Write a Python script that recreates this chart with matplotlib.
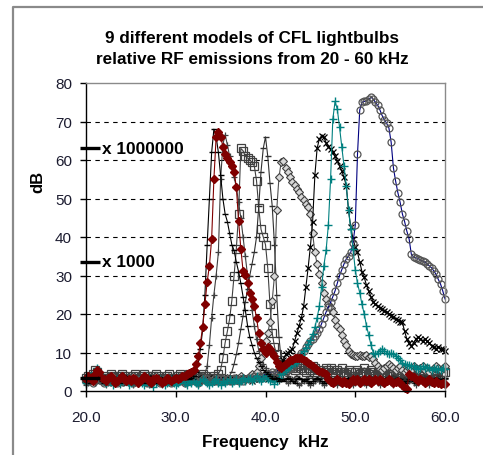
import numpy as np
import matplotlib
matplotlib.use("Agg")
import matplotlib.pyplot as plt
from matplotlib.lines import Line2D

plt.rcParams['font.family'] = ['Liberation Sans', 'DejaVu Sans']

# ---------------- data ----------------
freq_khz = np.linspace(20.0, 60.0, 161)   # 0.25 kHz sampling

db_red = [
    3.0, 4.0, 3.5, 2.5,  4.5, 5.5, 5.0, 3.5,  3.0, 2.5, 3.5, 4.0,  3.0, 2.0, 2.5, 3.5,
    4.0, 3.0, 2.5, 3.0,  2.5, 3.5, 3.0, 2.0,  2.5, 3.0, 4.0, 3.5,  2.5, 2.0, 3.0, 3.5,
    3.0, 2.5, 2.0, 2.5,  3.5, 3.0, 2.5, 3.0,  3.5, 3.0, 3.5, 4.0,  4.0, 4.5, 4.8, 5.0,
    5.5, 7.0, 9.0, 12.5,  16.6, 22.5, 28.4, 32.5,  39.5, 55.0, 66.0, 67.3,  66.0, 63.5, 61.5, 60.5,
    59.4, 58.5, 57.0, 53.0,  44.2, 37.0, 31.2, 30.2,  28.0, 25.5, 24.0, 22.0,  19.0, 15.0, 12.5, 11.0,
    10.0, 11.5, 11.0, 10.0,  9.0, 7.5, 6.5, 6.0,  6.5, 7.0, 7.5, 8.0,  8.0, 8.5, 8.5, 8.7,
    8.5, 8.0, 7.8, 7.3,  7.0, 6.6, 6.0, 5.5,  5.2, 5.0, 4.8, 4.5,  3.0, 2.3, 2.0, 2.5,
    3.0, 2.5, 2.0, 2.5,  2.0, 1.8, 2.5, 3.0,  2.5, 3.0, 2.0, 2.5,  3.1, 2.5, 3.0, 2.0,
    2.5, 3.0, 2.5, 3.0,  2.7, 2.0, 2.5, 3.0,  2.5, 2.0, 2.3, 2.5,  2.0, 1.5, 0.8, 0.5,
    4.4, 4.0, 3.6, 3.0,  2.5, 3.0, 2.5, 2.0,  2.5, 3.0, 2.3, 2.0,  2.5, 2.0, 1.8, 2.0,
    1.8]

db_black_a = [
    2.5, 3.0, 2.0, 2.5,  3.5, 4.0, 3.0, 2.5,  2.0, 3.0, 3.5, 2.5,  3.0, 3.5, 2.5, 2.0,
    2.5, 3.5, 4.0, 3.0,  2.0, 2.5, 3.0, 3.5,  3.0, 2.5, 2.0, 3.0,  3.5, 4.0, 3.0, 2.5,
    2.0, 2.5, 3.5, 3.0,  2.5, 2.0, 3.0, 3.5,  3.0, 2.5, 3.0, 3.5,  3.0, 3.5, 3.0, 3.5,
    4.0, 5.0, 7.0, 11.0,  16.0, 25.0, 38.0, 50.0,  62.0, 68.0, 66.0, 62.0,  56.0, 50.0, 46.0, 44.0,
    41.0, 38.0, 36.5, 33.5,  31.0, 28.0, 24.5, 21.0,  17.0, 14.0, 12.0, 10.0,  8.5, 7.5, 6.5, 5.5,
    5.0, 4.5, 4.0, 3.5,  3.0, 3.5, 2.5, 3.0,  2.5, 3.0, 3.5, 3.0,  2.5, 2.0, 3.0, 3.5,
    3.0, 2.5, 3.0, 2.5,  2.0, 2.5, 3.0, 3.5,  3.0, 2.5, 2.0, 2.5,  3.0, 3.5, 3.0, 2.5,
    2.0, 2.5, 3.0, 2.5,  3.0, 3.5, 2.5, 2.0,  2.5, 3.0, 3.5, 3.0,  2.5, 2.0, 2.5, 3.0,
    3.5, 3.0, 2.5, 2.0,  2.5, 3.0, 3.5, 3.0,  2.5, 2.0, 3.0, 3.5,  3.0, 2.5, 2.0, 2.5,
    3.0, 3.5, 2.5, 2.0,  2.5, 3.0, 3.5, 3.0,  2.5, 2.0, 2.5, 3.0,  3.5, 3.0, 2.5, 3.0,
    3.5]

db_black_b = [
    1.5, 2.0, 3.0, 2.5,  2.0, 3.5, 4.5, 3.0,  2.5, 1.5, 2.0, 3.0,  3.5, 2.5, 2.0, 1.5,
    2.0, 2.5, 3.5, 3.0,  2.5, 1.5, 2.0, 2.5,  3.0, 3.5, 2.5, 2.0,  1.5, 2.5, 3.0, 2.0,
    2.5, 3.0, 1.5, 2.0,  2.5, 3.5, 3.0, 2.5,  2.0, 2.5, 3.0, 2.5,  3.0, 2.5, 3.0, 3.5,
    3.0, 3.5, 3.0, 3.5,  4.0, 4.5, 6.5, 12.0,  19.0, 25.0, 30.0, 36.0,  55.0, 64.0, 66.5, 64.0,
    61.0, 58.0, 55.5, 53.0,  49.0, 45.0, 40.0, 35.0,  30.0, 25.5, 21.0, 17.0,  13.5, 10.5, 8.5, 7.0,
    6.0, 5.0, 4.5, 4.0,  3.5, 3.0, 2.5, 3.0,  3.5, 2.5, 2.0, 2.5,  3.0, 2.5, 2.0, 1.5,
    2.0, 2.5, 3.0, 2.0,  1.5, 2.0, 2.5, 3.0,  2.5, 2.0, 1.5, 2.0,  2.5, 3.0, 2.5, 2.0,
    1.5, 2.0, 2.5, 2.0,  2.5, 3.0, 2.0, 1.5,  2.0, 2.5, 3.0, 2.5,  2.0, 1.5, 2.0, 2.5,
    3.0, 2.5, 2.0, 1.5,  2.0, 2.5, 3.0, 2.5,  2.0, 1.5, 2.5, 3.0,  2.5, 2.0, 1.5, 2.0,
    2.5, 3.0, 2.0, 1.5,  2.0, 2.5, 3.0, 2.5,  2.0, 1.5, 2.0, 2.5,  3.0, 2.5, 2.0, 2.5,
    3.0]

db_squares = [
    3.5, 4.0, 3.0, 4.5,  5.5, 5.0, 4.0, 3.5,  4.0, 3.0, 3.5, 4.5,  4.0, 3.5, 3.0, 4.0,
    4.5, 4.0, 3.5, 3.0,  3.5, 4.0, 4.5, 3.5,  3.0, 4.0, 4.5, 4.0,  3.5, 3.0, 4.0, 4.5,
    4.0, 3.5, 3.0, 3.5,  4.0, 4.5, 3.5, 3.0,  3.5, 4.0, 4.5, 4.0,  3.5, 4.0, 4.5, 4.0,
    4.5, 4.0, 3.5, 4.0,  4.5, 4.0, 3.5, 3.0,  3.5, 4.0, 3.5, 4.5,  5.5, 8.5, 12.5, 15.5,
    18.7, 23.5, 30.0, 37.0,  46.0, 63.0, 62.4, 61.0,  60.5, 60.0, 59.4, 58.5,  54.6, 47.5, 42.0, 40.0,
    38.0, 32.0, 22.5, 15.0,  11.5, 9.5, 8.0, 7.0,  6.5, 6.0, 7.0, 6.5,  6.0, 5.5, 6.5, 7.0,
    6.0, 5.5, 5.0, 6.0,  5.5, 6.5, 6.0, 5.0,  5.5, 4.5, 5.0, 6.0,  5.5, 6.0, 5.0, 4.5,
    5.5, 5.0, 6.0, 5.0,  4.5, 5.5, 5.0, 4.0,  5.0, 5.5, 4.5, 5.0,  6.0, 5.0, 4.5, 5.5,
    5.0, 4.0, 5.0, 5.5,  4.5, 5.0, 4.0, 4.5,  5.0, 4.5, 3.5, 4.0,  4.5, 5.0, 4.0, 3.5,
    4.0, 4.5, 5.0, 4.0,  3.5, 4.0, 3.0, 3.5,  4.0, 3.5, 3.0, 4.0,  4.5, 3.5, 4.0, 5.0,
    5.0]

db_dash40 = [
    2.0, 2.5, 3.5, 3.0,  2.5, 3.0, 2.0, 2.5,  3.0, 3.5, 2.5, 2.0,  2.5, 3.0, 3.5, 3.0,
    2.0, 2.5, 3.0, 2.5,  3.5, 3.0, 2.5, 3.0,  2.0, 2.5, 3.0, 3.5,  3.0, 2.5, 2.0, 2.5,
    3.5, 3.0, 2.5, 3.0,  2.0, 2.5, 3.0, 2.5,  3.0, 3.5, 2.5, 2.0,  2.5, 3.0, 3.5, 3.0,
    2.5, 2.0, 2.5, 3.0,  3.5, 3.0, 2.5, 3.0,  2.5, 3.0, 3.5, 3.0,  2.5, 3.0, 3.5, 4.0,
    4.0, 5.0, 7.0, 9.5,  12.5, 16.0, 19.5, 23.0,  26.5, 30.0, 33.0, 36.0,  40.0, 48.0, 57.0, 63.0,
    66.0, 61.0, 54.0, 48.0,  38.0, 25.0, 14.0, 8.0,  5.5, 4.5, 4.0, 3.5,  3.0, 3.5, 4.0, 3.5,
    3.0, 2.5, 3.0, 3.5,  4.0, 3.5, 3.0, 2.5,  3.0, 3.5, 4.0, 3.5,  3.0, 2.5, 3.0, 3.5,
    4.0, 3.5, 3.0, 3.5,  3.0, 2.5, 3.0, 3.5,  4.0, 3.5, 3.0, 2.5,  3.0, 3.5, 4.0, 3.5,
    3.0, 2.5, 3.0, 3.5,  3.5, 3.0, 2.5, 3.0,  3.5, 4.0, 3.5, 3.0,  2.5, 3.0, 3.5, 3.0,
    3.5, 4.0, 3.5, 3.0,  2.5, 3.0, 3.5, 4.0,  3.5, 3.0, 2.5, 3.0,  3.5, 4.0, 3.5, 3.0,
    3.5]

db_diamonds = [
    3.0, 3.5, 4.0, 3.0,  2.5, 3.0, 4.0, 3.5,  3.0, 2.5, 3.0, 3.5,  4.0, 3.5, 3.0, 2.5,
    3.0, 3.5, 3.0, 2.5,  3.0, 4.0, 3.5, 3.0,  2.5, 3.0, 3.5, 3.0,  2.5, 3.0, 3.5, 4.0,
    3.5, 3.0, 2.5, 3.0,  3.5, 3.0, 2.5, 3.0,  3.0, 2.5, 3.0, 3.5,  3.0, 2.5, 3.0, 3.5,
    3.0, 2.5, 3.0, 2.5,  3.0, 3.5, 3.0, 2.5,  3.0, 2.5, 3.0, 3.5,  3.0, 2.5, 3.0, 3.5,
    3.0, 2.5, 3.0, 3.5,  3.5, 4.0, 3.5, 3.0,  3.5, 4.0, 4.5, 4.0,  5.0, 6.5, 8.5, 11.0,
    13.0, 15.0, 18.0, 23.5,  30.0, 47.0, 55.5, 59.5,  59.8, 58.0, 56.8, 55.5,  54.2, 53.5, 52.5, 51.6,
    50.5, 49.5, 48.6, 47.8,  46.0, 41.0, 36.0, 33.0,  30.5, 28.0, 25.5, 24.0,  22.5, 21.5, 20.4, 18.5,
    17.0, 16.0, 14.5, 13.0,  12.0, 10.5, 9.5, 9.3,  9.2, 9.0, 9.4, 9.2,  9.0, 9.3, 8.8, 9.0,
    8.3, 7.4, 6.5, 5.7,  5.5, 6.0, 6.5, 7.0,  6.5, 6.0, 5.5, 6.0,  6.5, 5.5, 5.0, 5.5,
    6.0, 5.5, 6.5, 6.0,  5.5, 6.0, 6.5, 5.5,  6.0, 5.0, 5.5, 6.0,  6.5, 6.0, 5.5, 6.0,
    6.5]

db_cross = [
    3.0, 2.5, 3.5, 4.0,  3.0, 2.5, 3.0, 3.5,  2.5, 3.0, 2.0, 2.5,  3.0, 3.5, 2.5, 3.0,
    3.5, 2.5, 2.0, 2.5,  3.0, 2.5, 3.5, 3.0,  2.5, 3.5, 3.0, 2.5,  2.0, 2.5, 3.0, 3.5,
    3.0, 2.5, 3.0, 2.5,  3.0, 3.5, 2.5, 2.0,  2.5, 3.0, 2.5, 3.5,  3.0, 2.5, 3.5, 3.0,
    2.5, 3.0, 3.5, 3.0,  2.5, 3.0, 2.5, 3.5,  3.0, 2.5, 3.0, 2.5,  3.0, 3.5, 3.0, 2.5,
    3.0, 2.5, 3.5, 3.0,  2.5, 3.0, 3.5, 3.0,  3.5, 3.0, 2.5, 3.0,  3.5, 3.0, 3.5, 4.0,
    3.5, 3.0, 3.5, 4.0,  3.5, 4.0, 5.0, 6.5,  8.0, 9.5, 10.0, 10.5,  11.0, 13.0, 15.0, 17.0,
    19.0, 22.0, 27.0, 32.0,  37.5, 44.0, 56.0, 63.0,  65.5, 66.3, 66.0, 64.5,  63.5, 62.8, 62.0, 61.0,
    59.8, 58.5, 57.2, 55.5,  53.3, 47.0, 42.5, 39.5,  37.5, 36.0, 33.5, 31.0,  29.5, 27.5, 26.0, 24.5,
    23.2, 22.5, 22.0, 21.6,  21.3, 20.8, 20.5, 20.0,  19.6, 19.2, 18.8, 18.5,  18.0, 17.8, 15.5, 13.5,
    12.5, 11.8, 12.5, 13.5,  14.0, 13.5, 13.0, 13.5,  13.0, 12.5, 11.8, 11.5,  11.0, 11.5, 11.0, 10.9,
    10.5]

db_teal = [
    2.0, 3.0, 4.0, 3.5,  5.0, 6.0, 4.5, 3.0,  2.5, 2.0, 3.0, 2.5,  1.5, 2.5, 3.0, 2.0,
    2.5, 3.5, 2.5, 1.5,  2.0, 3.0, 2.5, 2.0,  3.0, 2.0, 1.5, 2.5,  3.5, 2.5, 1.0, 2.0,
    2.5, 3.0, 2.0, 1.5,  2.0, 2.5, 3.0, 2.0,  1.5, 2.0, 2.5, 3.0,  2.0, 1.5, 2.5, 2.0,
    2.5, 2.0, 1.5, 2.5,  3.0, 2.5, 2.0, 1.5,  2.0, 2.5, 3.0, 2.0,  1.5, 2.5, 2.0, 2.5,
    3.0, 2.0, 2.5, 3.0,  2.0, 2.5, 3.5, 2.5,  3.0, 3.5, 2.5, 3.0,  4.0, 3.0, 2.5, 3.5,
    4.0, 3.0, 2.5, 3.0,  1.8, 2.5, 3.5, 4.5,  5.0, 5.5, 6.0, 6.6,  7.0, 7.2, 7.6, 8.5,
    9.3, 10.3, 11.2, 12.2,  13.2, 14.8, 16.5, 19.0,  22.0, 27.0, 32.5, 36.5,  43.0, 55.0, 70.6, 75.2,
    73.2, 68.5, 63.5, 58.5,  53.3, 47.0, 42.0, 37.0,  31.5, 28.0, 25.5, 22.5,  20.0, 17.0, 14.5, 12.0,
    10.0, 9.5, 10.0, 10.5,  11.0, 10.5, 10.0, 9.6,  9.8, 9.5, 9.2, 8.5,  8.0, 7.4, 7.0, 6.8,
    6.8, 6.6, 6.5, 6.0,  5.7, 6.0, 6.5, 6.0,  6.2, 6.1, 5.5, 6.0,  5.8, 5.7, 5.5, 6.0,
    5.8]

db_navy = [
    2.5, 3.0, 2.5, 2.0,  3.0, 3.5, 3.0, 2.5,  2.0, 2.5, 3.0, 2.5,  3.0, 2.5, 2.0, 2.5,
    3.0, 2.5, 3.0, 3.5,  2.5, 2.0, 2.5, 3.0,  2.5, 3.0, 2.5, 2.0,  2.5, 3.0, 3.5, 3.0,
    2.5, 2.0, 2.5, 3.0,  3.0, 2.5, 2.0, 2.5,  3.0, 2.5, 3.0, 2.5,  2.0, 2.5, 3.0, 2.5,
    3.0, 2.5, 2.0, 2.5,  3.0, 3.5, 3.0, 2.5,  2.5, 3.0, 2.5, 3.0,  3.5, 3.0, 2.5, 3.0,
    2.5, 3.0, 3.5, 3.0,  2.5, 3.0, 2.5, 3.0,  3.5, 3.0, 3.5, 4.0,  3.5, 4.0, 3.5, 4.0,
    4.5, 4.0, 4.5, 5.0,  4.5, 5.0, 5.5, 5.0,  5.5, 5.0, 5.5, 6.0,  6.0, 7.0, 8.0, 9.0,
    9.8, 10.5, 11.5, 12.3,  13.0, 13.5, 14.3, 15.0,  16.0, 17.5, 19.0, 20.5,  21.8, 23.0, 24.5, 26.0,
    28.0, 30.0, 31.5, 33.0,  34.3, 35.0, 36.0, 38.5,  43.0, 61.5, 73.0, 75.0,  75.2, 75.4, 75.8, 76.3,
    75.8, 75.0, 74.2, 73.0,  71.5, 70.5, 69.5, 68.3,  64.6, 58.0, 54.5, 51.5,  49.0, 46.0, 44.0, 41.5,
    39.5, 35.5, 34.8, 34.6,  34.4, 34.0, 33.8, 33.5,  33.0, 32.5, 32.0, 31.2,  30.3, 29.0, 27.8, 26.0,
    23.9]

scale_levels = [63.1, 33.6, 3.5]
scale_labels = ["x 1000000", "x 1000", ""]

title_lines = ["9 different models of CFL lightbulbs",
               "relative RF emissions from 20 - 60 kHz"]
x_ticks = [20, 30, 40, 50, 60]
y_ticks = [0, 10, 20, 30, 40, 50, 60, 70, 80]

# ---------------- figure ----------------
W, H = 483, 456
fig = plt.figure(figsize=(W / 100, H / 100), dpi=100)
fig.patch.set_facecolor('white')

# outer chart frame (only left and top visible)
fig.add_artist(Line2D([13 / W, 13 / W, 1.0], [0.0, 1 - 8 / H, 1 - 8 / H],
                      transform=fig.transFigure, color='#8a8a8a', lw=1.6))

L, R, T, B = 86, 445, 84, 392
ax = fig.add_axes([L / W, 1 - B / H, (R - L) / W, (B - T) / H])
ax.set_xlim(20, 60)
ax.set_ylim(0, 80)

for yv in y_ticks[1:-1]:
    ax.axhline(yv, color='black', lw=0.8, ls=(0, (4, 4)), zorder=1)

common = dict(lw=0.8, clip_on=False, zorder=3)
ax.plot(freq_khz, db_squares, color='#404040', marker='s', ms=5.2, mfc='none',
        mec='#404040', mew=0.9, **common)
ax.plot(freq_khz, db_dash40, color='#303030', marker='_', ms=5, mew=1.0, **common)
ax.plot(freq_khz, db_black_b, color='#404040', marker='+', ms=5, mew=0.9, **common)
ax.plot(freq_khz, db_diamonds, color='#505050', marker='D', ms=4.5, mfc='#d8d8d8',
        mec='#404040', mew=0.8, **common)
ax.plot(freq_khz, db_cross, color='black', marker='x', ms=4.5, mew=0.9, **common)
ax.plot(freq_khz, db_navy, color='#000080', marker='o', ms=5, mfc='none',
        mec='#555555', mew=0.9, **common)
ax.plot(freq_khz, db_teal, color='#008080', marker='+', ms=5.5, mew=1.0, **common)
ax.plot(freq_khz, db_black_a, color='black', marker='_', ms=5, mew=1.0, **common)
ax.plot(freq_khz, db_red, color='#800000', marker='D', ms=4.4, mfc='#800000',
        mec='#800000', **common)

# scale annotation marks
btrans = ax.get_yaxis_transform()
for lev, lab in zip(scale_levels, scale_labels):
    ax.plot([-6 / (R - L), 13.5 / (R - L)], [lev, lev], transform=btrans,
            color='black', lw=2.4, clip_on=False, zorder=5, solid_capstyle='butt')
    if lab:
        ax.text(16 / (R - L), lev, lab, transform=btrans, ha='left', va='center',
                fontsize=12.4, fontweight='bold', color='black', zorder=6)

# spines
ax.spines['left'].set_color('black')
ax.spines['bottom'].set_color('black')
ax.spines['top'].set_color('#8a8a8a')
ax.spines['right'].set_color('#8a8a8a')
for s in ax.spines.values():
    s.set_linewidth(1.0)
    s.set_zorder(4)

ax.set_xticks(x_ticks)
ax.set_xticklabels([f"{v:.1f}" for v in x_ticks])
ax.set_yticks(y_ticks)
ax.set_yticklabels([str(v) for v in y_ticks])
ax.tick_params(axis='both', direction='out', length=4.5, width=1.0, color='black',
               labelsize=11, labelcolor='#1c1c30')
ax.tick_params(axis='y', pad=5.5)
ax.tick_params(axis='x', pad=9)

fig.text(252 / W, 1 - 38 / H, title_lines[0], ha='center', va='center',
         fontsize=12.3, fontweight='bold')
fig.text(252 / W, 1 - 60 / H, title_lines[1], ha='center', va='center',
         fontsize=12.3, fontweight='bold')
fig.text(265 / W, 1 - 443 / H, "Frequency  kHz", ha='center', va='center',
         fontsize=12.3, fontweight='bold')
fig.text(37.5 / W, 1 - 182 / H, "dB", ha='center', va='center', rotation=90,
         fontsize=12, fontweight='bold')

fig.savefig("out.png", dpi=100, facecolor='white')
